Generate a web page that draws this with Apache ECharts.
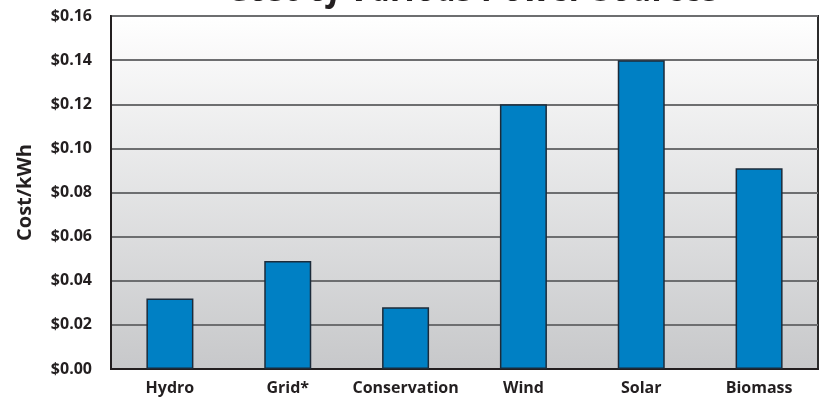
<!DOCTYPE html>
<html>
<head>
<meta charset="utf-8">
<script src="https://cdn.jsdelivr.net/npm/echarts@6/dist/echarts.min.js"></script>
<style>
html, body { margin: 0; padding: 0; background: #fff; }
#main { width: 824px; height: 398px; }
</style>
</head>
<body>
<div id="main"></div>
<script>
var categories = ['Hydro', 'Grid*', 'Conservation', 'Wind', 'Solar', 'Biomass'];
var costs = [0.032, 0.049, 0.028, 0.120, 0.140, 0.091];

var myChart = echarts.init(document.getElementById('main'));

var option = {
    animation: false,
    title: {
        text: 'Cost of Various Power Sources',
        left: 469,
        textAlign: 'center',
        top: -31,
        textStyle: {
            fontFamily: 'Open Sans',
            fontSize: 34.5,
            fontWeight: 'bold',
            fontStyle: 'italic',
            color: '#231f20'
        }
    },
    grid: {
        left: 111,
        right: 6,
        top: 16,
        bottom: 29,
        show: true,
        borderColor: '#2b2b2b',
        borderWidth: 2,
        backgroundColor: {
            type: 'linear', x: 0, y: 0, x2: 0, y2: 1,
            colorStops: [
                { offset: 0, color: '#ffffff' },
                { offset: 1, color: '#c7c8ca' }
            ]
        }
    },
    xAxis: {
        type: 'category',
        data: categories,
        axisLine: { lineStyle: { color: '#231f20', width: 2 } },
        axisTick: { show: false },
        axisLabel: {
            interval: 0,
            margin: 11,
            fontFamily: 'Open Sans',
            fontWeight: 'bold',
            fontSize: 16,
            color: '#231f20'
        }
    },
    yAxis: {
        type: 'value',
        min: 0,
        max: 0.16,
        interval: 0.02,
        name: 'Cost/kWh',
        nameLocation: 'middle',
        nameGap: 76,
        nameTextStyle: {
            fontFamily: 'Open Sans',
            fontWeight: 'bold',
            fontSize: 20,
            color: '#231f20'
        },
        axisLine: { show: true, lineStyle: { color: '#231f20', width: 2 } },
        axisTick: { show: false },
        axisLabel: {
            margin: 19,
            fontFamily: 'Open Sans',
            fontWeight: 'bold',
            fontSize: 16,
            color: '#231f20',
            formatter: function (v) { return '$' + v.toFixed(2); }
        },
        splitLine: { lineStyle: { color: '#6d6e70', width: 2 } }
    },
    series: [{
        type: 'bar',
        data: costs,
        barWidth: 47,
        itemStyle: {
            color: '#0080c4',
            borderColor: '#1c2b3a',
            borderWidth: 1.5
        }
    }]
};

myChart.setOption(option);
</script>
</body>
</html>
